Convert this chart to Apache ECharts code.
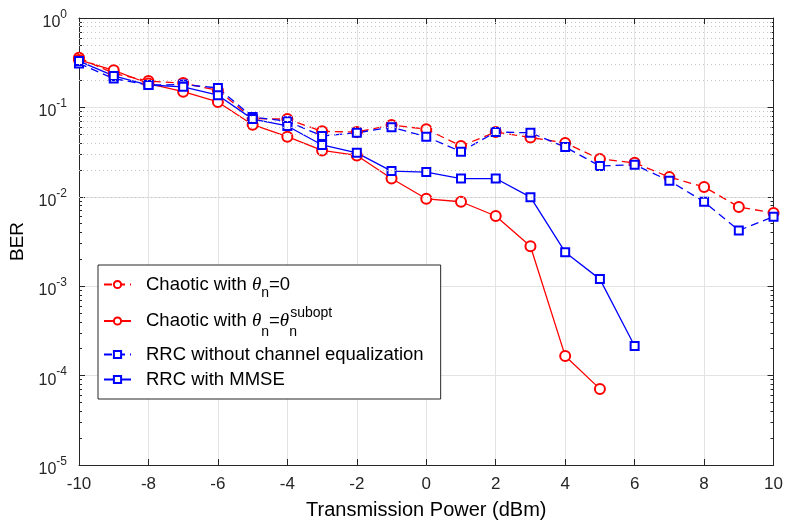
<!DOCTYPE html>
<html>
<head>
<meta charset="utf-8">
<title>BER vs Transmission Power</title>
<script src="https://cdn.jsdelivr.net/npm/echarts@6/dist/echarts.min.js"></script>
<style>
  html, body { margin: 0; padding: 0; background: #fff; }
  #chart { width: 786px; height: 525px; }
</style>
</head>
<body>
<div id="chart"></div>
<script>
// transmission power (dBm)
var powerAll = [-10, -9, -8, -7, -6, -5, -4, -3, -2, -1, 0, 1, 2, 3, 4, 5, 6, 7, 8, 9, 10];

// BER
var berTheta0 = [0.36, 0.24, 0.197, 0.187, 0.155, 0.075, 0.074, 0.054, 0.053, 0.0635, 0.057, 0.037, 0.053, 0.046, 0.040, 0.0265, 0.024, 0.0166, 0.0129, 0.0077, 0.0066];
var berSubopt = [0.34, 0.26, 0.185, 0.15, 0.115, 0.064, 0.047, 0.033, 0.029, 0.016, 0.0095, 0.0088, 0.0061, 0.0028, 0.000166, 0.000071];
var berNoEq = [0.31, 0.21, 0.178, 0.18, 0.165, 0.078, 0.07, 0.048, 0.052, 0.060, 0.047, 0.032, 0.053, 0.052, 0.036, 0.0221, 0.0228, 0.0151, 0.0088, 0.0042, 0.0060];
var berMmse = [0.33, 0.225, 0.178, 0.17, 0.137, 0.074, 0.062, 0.038, 0.031, 0.0194, 0.0189, 0.016, 0.016, 0.0099, 0.0024, 0.0012, 0.000214];

var seriesNames = ['theta0', 'subopt', 'noeq', 'mmse'];
var legendLabels = {
  theta0: '{t|Chaotic with }{th|θ}{sub|n}{t|=0}',
  subopt: '{t|Chaotic with }{th|θ}{sub2|n}{t|=}{th|θ}{subn|n}{sup2|subopt}',
  noeq: '{t|RRC without channel equalization}',
  mmse: '{t|RRC with MMSE}'
};

// minor grid positions 2..9 x 10^k
var minorVals = [];
for (var k = -5; k < 0; k++) {
  for (var m = 2; m <= 9; m++) minorVals.push(m * Math.pow(10, k));
}

function pairs(xs, ys) {
  return ys.map(function (v, i) { return [xs[i], v]; });
}

var axisColor = '#262626';
var font = 'Liberation Sans, Arial, sans-serif';

function yAxisBase(pos) {
  return {
    type: 'log', logBase: 10, min: 1e-5, max: 1, position: pos,
    axisLine: { show: true, onZero: false, lineStyle: { color: axisColor, width: 1 } },
    axisTick: { show: true, inside: true, length: 6, lineStyle: { color: axisColor } },
    axisLabel: { show: false },
    splitLine: { show: false }
  };
}
function yMinorAxis(pos) {
  var a = yAxisBase(pos);
  a.axisLine.show = false;
  a.axisTick = { show: true, inside: true, length: 3, customValues: minorVals, lineStyle: { color: axisColor } };
  return a;
}

var yMain = yAxisBase('left');
yMain.name = 'BER';
yMain.nameLocation = 'middle';
yMain.nameGap = 48;
yMain.nameTextStyle = { fontSize: 19, fontFamily: font, color: '#000' };
yMain.axisLabel = {
  show: true, margin: 12, fontFamily: font,
  formatter: function (v) {
    var e = Math.round(Math.log(v) / Math.LN10);
    return '{b|10}{s|' + e + '}';
  },
  rich: {
    b: { fontSize: 16, fontFamily: font, color: axisColor, verticalAlign: 'bottom', padding: [9, 0, 0, 0] },
    s: { fontSize: 12, fontFamily: font, color: axisColor, verticalAlign: 'top', padding: [3, 0, 0, 0] }
  }
};
yMain.splitLine = { show: true, lineStyle: { color: '#e3e3e3', width: 1 } };

function mkSeries(name, ys, color, dashed, symbol, size) {
  return {
    name: name, type: 'line', xAxisIndex: 0, yAxisIndex: 0,
    data: pairs(powerAll, ys),
    symbol: symbol, symbolSize: size,
    showAllSymbol: true,
    lineStyle: { color: color, width: 1.3, type: dashed ? [8, 5] : 'solid' },
    itemStyle: { color: color, borderColor: color, borderWidth: 1.3 },
    emphasis: { disabled: true },
    animation: false
  };
}

var chart = echarts.init(document.getElementById('chart'));
var option = {
  animation: false,
  backgroundColor: '#fff',
  grid: { left: 79, right: 10, top: 18, bottom: 60 },
  xAxis: [{
    type: 'value', min: -10, max: 10, interval: 2, position: 'bottom',
    name: 'Transmission Power (dBm)', nameLocation: 'middle', nameGap: 35,
    nameTextStyle: { fontSize: 20, fontFamily: font, color: '#000' },
    axisLine: { show: true, onZero: false, lineStyle: { color: axisColor } },
    axisTick: { show: true, inside: true, length: 6, lineStyle: { color: axisColor } },
    axisLabel: { fontSize: 17, fontFamily: font, color: axisColor, margin: 11 },
    splitLine: { show: true, lineStyle: { color: '#e3e3e3', width: 1 } }
  }, {
    type: 'value', min: -10, max: 10, interval: 2, position: 'top',
    axisLine: { show: true, onZero: false, lineStyle: { color: axisColor } },
    axisTick: { show: true, inside: true, length: 6, lineStyle: { color: axisColor } },
    axisLabel: { show: false },
    splitLine: { show: false }
  }],
  yAxis: [yMain, yAxisBase('right'), yMinorAxis('left'), yMinorAxis('right')],
  legend: {
    orient: 'vertical', left: 98, top: 265,
    padding: [10, 17, 10, 5], itemGap: 6,
    itemWidth: 27, itemHeight: 9,
    borderColor: axisColor, borderWidth: 1, backgroundColor: '#fff',
    data: seriesNames,
    formatter: function (name) { return legendLabels[name]; },
    textStyle: {
      fontSize: 18.5, fontFamily: font, color: '#000', padding: [0, 0, 0, 10],
      rich: {
        t: { fontSize: 18.5, lineHeight: 22, fontFamily: font, color: '#000' },
        th: { fontSize: 19, lineHeight: 22, fontFamily: 'Liberation Serif, serif', fontStyle: 'italic', color: '#000' },
        sub: { fontSize: 14, fontFamily: font, color: '#000', verticalAlign: 'bottom', padding: [17, 0, 0, 0] },
        sub2: { fontSize: 14, fontFamily: font, color: '#000', verticalAlign: 'bottom', padding: [22, 0, 0, 0] },
        subn: { fontSize: 14, fontFamily: font, color: '#000', verticalAlign: 'bottom', padding: [22, 0, 0, 0], width: 1 },
        sup2: { fontSize: 14, fontFamily: font, color: '#000', verticalAlign: 'top', padding: [3, 0, 19, 0] }
      }
    }
  },
  series: [
    mkSeries('theta0', berTheta0, '#ff0000', true, 'emptyCircle', 10),
    mkSeries('subopt', berSubopt, '#ff0000', false, 'emptyCircle', 10),
    mkSeries('noeq', berNoEq, '#0000ff', true, 'emptyRect', 8),
    mkSeries('mmse', berMmse, '#0000ff', false, 'emptyRect', 8)
  ]
};
// dotted minor grid on the log axis
option.series[0].markLine = {
  silent: true, symbol: 'none', label: { show: false },
  lineStyle: { color: '#c4c4c4', type: [1, 3], width: 1 },
  data: minorVals.map(function (v) { return { yAxis: v }; })
};
chart.setOption(option);
</script>
</body>
</html>
